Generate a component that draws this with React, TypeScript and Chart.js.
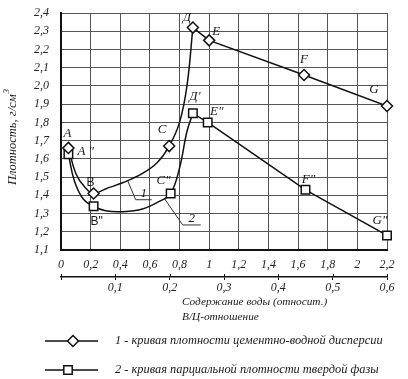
import React, { useEffect, useRef } from 'react';
import { Chart, registerables } from 'chart.js';

Chart.register(...registerables);

const SERIF = "'Liberation Serif', 'DejaVu Serif', serif";
const SANS = "'Liberation Sans', 'DejaVu Sans', sans-serif";

// ---- marked points ----
const curve1Names = ['A', 'B', 'C', 'Д', 'E', 'F', 'G'];
const curve1X = [0.05, 0.22, 0.73, 0.89, 1.0, 1.64, 2.2];
const curve1Y = [1.66, 1.41, 1.67, 2.32, 2.25, 2.06, 1.89];

const curve2Names = ['A "', 'B"', 'C"', "Д'", 'E"', 'F"', 'G"'];
const curve2X = [0.05, 0.22, 0.74, 0.89, 0.99, 1.65, 2.2];
const curve2Y = [1.625, 1.34, 1.41, 1.85, 1.8, 1.43, 1.18];

// ---- traced smooth parts of the curves ----
const curve1PathX = [0.05, 0.1, 0.16, 0.22, 0.3, 0.42, 0.55, 0.65, 0.73, 0.8, 0.85, 0.89];
const curve1PathY = [1.66, 1.52, 1.445, 1.41, 1.435, 1.47, 1.52, 1.58, 1.67, 1.8, 2.0, 2.32];

const curve2PathX = [0.05, 0.09, 0.15, 0.22, 0.3, 0.42, 0.55, 0.66, 0.74, 0.8, 0.85, 0.89];
const curve2PathY = [1.625, 1.48, 1.38, 1.34, 1.315, 1.31, 1.325, 1.365, 1.41, 1.55, 1.75, 1.85];

// index where the straight part starts
const straightFrom = 3;

// ---- axes ----
const xMin = 0, xMax = 2.2, xStep = 0.2;
const yMin = 1.1, yMax = 2.4, yStep = 0.1;
const x2Min = 0, x2Max = 0.6, x2Step = 0.1;

// ---- texts ----
const yTitle = 'Плотность, г/см';
const yTitleSup = '3';
const xTitle1 = 'Содержание воды (относит.)';
const xTitle2 = 'В/Ц-отношение';
const legendText1 = '1 - кривая плотности цементно-водной дисперсии';
const legendText2 = '2 - кривая парциальной плотности твердой фазы';
const curveTag1 = '1';
const curveTag2 = '2';

// label placement styles (dx, dy, align, font)
const curve1LabelStyle: [number, number, CanvasTextAlign, string][] = [
  [-1, -14, 'center', SERIF],
  [-3, -11, 'center', SANS],
  [-7, -17, 'center', SERIF],
  [-6, -10, 'center', SERIF],
  [7, -9, 'center', SERIF],
  [0, -15, 'center', SERIF],
  [-13, -16, 'center', SERIF],
];
const curve2LabelStyle: [number, number, CanvasTextAlign, string][] = [
  [9, -3, 'left', SERIF],
  [3, 15, 'center', SANS],
  [-7, -13, 'center', SERIF],
  [2, -17, 'center', SERIF],
  [9, -11, 'center', SERIF],
  [3, -10, 'center', SERIF],
  [-7, -15, 'center', SERIF],
];

const fmtComma = (v: number, digits?: number) => {
  const r = Math.round(v * 10) / 10;
  return (digits !== undefined ? r.toFixed(digits) : String(r)).replace('.', ',');
};

function diamond(ctx: CanvasRenderingContext2D, x: number, y: number, r: number) {
  ctx.beginPath();
  ctx.moveTo(x, y - r);
  ctx.lineTo(x + r, y);
  ctx.lineTo(x, y + r);
  ctx.lineTo(x - r, y);
  ctx.closePath();
  ctx.fillStyle = '#fff';
  ctx.fill();
  ctx.stroke();
}
function square(ctx: CanvasRenderingContext2D, x: number, y: number, h: number) {
  ctx.beginPath();
  ctx.rect(x - h, y - h, 2 * h, 2 * h);
  ctx.fillStyle = '#fff';
  ctx.fill();
  ctx.stroke();
}

const textPlugin = {
  id: 'extraTexts',
  afterDraw(chart: any) {
    const ctx: CanvasRenderingContext2D = chart.ctx;
    const xs = chart.scales.x;
    const ys = chart.scales.y;
    const x2s = chart.scales.x2;
    ctx.save();
    ctx.fillStyle = '#1a1a1a';
    ctx.textBaseline = 'middle';

    // small upward tick halves on the secondary axis
    ctx.strokeStyle = '#111';
    ctx.lineWidth = 1;
    for (let v = x2Min; v <= x2Max + 1e-9; v += x2Step) {
      const px = Math.round(x2s.getPixelForValue(v)) + 0.5;
      ctx.beginPath();
      ctx.moveTo(px, x2s.top - 3);
      ctx.lineTo(px, x2s.top);
      ctx.stroke();
    }

    // point labels
    const drawLabels = (names: string[], X: number[], Y: number[], st: any[]) => {
      names.forEach((n, i) => {
        const px = xs.getPixelForValue(X[i]);
        const py = ys.getPixelForValue(Y[i]);
        const [dx, dy, al, fam] = st[i];
        ctx.font = fam === SANS ? `12px ${SANS}` : `italic 13px ${SERIF}`;
        ctx.textAlign = al;
        ctx.fillStyle = '#1a1a1a';
        ctx.fillText(n, px + dx, py + dy);
      });
    };
    drawLabels(curve1Names, curve1X, curve1Y, curve1LabelStyle);
    drawLabels(curve2Names, curve2X, curve2Y, curve2LabelStyle);

    // curve tags with leaders
    const tag = (txt: string, ax: number, ay: number, lx: number, ly: number, ulen: number, tx: number, ty: number) => {
      const px = xs.getPixelForValue(ax);
      const py = ys.getPixelForValue(ay);
      ctx.strokeStyle = '#333';
      ctx.lineWidth = 1;
      ctx.beginPath();
      ctx.moveTo(px, py);
      ctx.lineTo(px + lx, py + ly);
      ctx.lineTo(px + lx + ulen, py + ly);
      ctx.stroke();
      ctx.font = `italic 13px ${SERIF}`;
      ctx.textAlign = 'center';
      ctx.fillStyle = '#1a1a1a';
      ctx.fillText(txt, px + tx, py + ty);
    };
    tag(curveTag1, 0.45, 1.48, 8, 19, 16, 16, 13);
    tag(curveTag2, 0.7, 1.38, 18, 26, 18, 27, 20);

    // y title
    ctx.save();
    ctx.translate(13, 137);
    ctx.rotate(-Math.PI / 2);
    ctx.font = `italic 12.5px ${SERIF}`;
    const w1 = ctx.measureText(yTitle).width;
    ctx.font = `italic 9px ${SERIF}`;
    const w2 = ctx.measureText(yTitleSup).width;
    const start = -(w1 + w2 + 1) / 2;
    ctx.textAlign = 'left';
    ctx.font = `italic 12.5px ${SERIF}`;
    ctx.fillText(yTitle, start, 0);
    ctx.font = `italic 9px ${SERIF}`;
    ctx.fillText(yTitleSup, start + w1 + 1, -6);
    ctx.restore();

    // x titles
    ctx.font = `italic 11.3px ${SERIF}`;
    ctx.textAlign = 'left';
    ctx.fillText(xTitle1, 182, 302);
    ctx.fillText(xTitle2, 182, 317);

    // legend
    ctx.strokeStyle = '#111';
    ctx.lineWidth = 1.5;
    ctx.beginPath();
    ctx.moveTo(45, 341);
    ctx.lineTo(98, 341);
    ctx.stroke();
    diamond(ctx, 73, 341, 5.5);
    ctx.beginPath();
    ctx.moveTo(45, 370);
    ctx.lineTo(98, 370);
    ctx.stroke();
    square(ctx, 68, 370, 4.2);
    ctx.fillStyle = '#1a1a1a';
    ctx.font = `italic 12.4px ${SERIF}`;
    ctx.textAlign = 'left';
    ctx.fillText(legendText1, 115, 341);
    ctx.fillText(legendText2, 115, 370);

    ctx.restore();
  },
};

const toXY = (X: number[], Y: number[]) => X.map((x, i) => ({ x, y: Y[i] }));

export default function App() {
  const ref = useRef<HTMLCanvasElement | null>(null);
  useEffect(() => {
    if (!ref.current) return;
    const lineCol = '#111';
    const chart = new Chart(ref.current, {
      type: 'line',
      data: {
        datasets: [
          {
            data: toXY(curve1X, curve1Y),
            showLine: false,
            pointStyle: 'rectRot',
            pointRadius: 5.5,
            pointBackgroundColor: '#fff',
            pointBorderColor: lineCol,
            pointBorderWidth: 1.5,
            clip: false,
          } as any,
          {
            data: toXY(curve2X, curve2Y),
            showLine: false,
            pointStyle: 'rect',
            pointRadius: 6,
            pointBackgroundColor: '#fff',
            pointBorderColor: lineCol,
            pointBorderWidth: 1.5,
            clip: false,
          } as any,
          {
            data: toXY(curve1PathX, curve1PathY),
            borderColor: lineCol,
            borderWidth: 1.5,
            pointRadius: 0,
            tension: 0.4,
          },
          {
            data: toXY(curve1X.slice(straightFrom), curve1Y.slice(straightFrom)),
            borderColor: lineCol,
            borderWidth: 1.5,
            pointRadius: 0,
            tension: 0,
          },
          {
            data: toXY(curve2PathX, curve2PathY),
            borderColor: lineCol,
            borderWidth: 1.5,
            pointRadius: 0,
            tension: 0.4,
          },
          {
            data: toXY(curve2X.slice(straightFrom), curve2Y.slice(straightFrom)),
            borderColor: lineCol,
            borderWidth: 1.5,
            pointRadius: 0,
            tension: 0,
          },
        ],
      },
      options: {
        responsive: false,
        animation: false,
        parsing: false as any,
        layout: { padding: { left: 0, right: 21, top: 13, bottom: 0 } },
        plugins: { legend: { display: false }, tooltip: { enabled: false }, title: { display: false } },
        scales: {
          x: {
            type: 'linear',
            position: 'bottom',
            weight: 0,
            min: xMin,
            max: xMax,
            ticks: {
              stepSize: xStep,
              padding: 8,
              color: '#222',
              font: { family: SERIF, size: 12, style: 'italic' },
              callback: (v: any) => fmtComma(Number(v)),
              maxRotation: 0,
              autoSkip: false,
            },
            grid: { color: '#555', lineWidth: 1, drawTicks: false },
            border: { display: true, color: '#111', width: 2 },
            afterFit: (s: any) => { s.height = 27; s.paddingLeft = 0; s.paddingRight = 0; },
          } as any,
          x2: {
            type: 'linear',
            position: 'bottom',
            weight: 1,
            min: x2Min,
            max: x2Max,
            ticks: {
              stepSize: x2Step,
              padding: 1,
              color: '#222',
              font: { family: SERIF, size: 12, style: 'italic' },
              callback: (v: any) => (Number(v) === 0 ? '' : fmtComma(Number(v), 1)),
              maxRotation: 0,
              autoSkip: false,
            },
            grid: { drawOnChartArea: false, drawTicks: true, tickLength: 3, color: '#111', lineWidth: 1 },
            border: { display: true, color: '#111', width: 1.5 },
            afterFit: (s: any) => { s.height = 102; s.paddingLeft = 0; s.paddingRight = 0; },
          } as any,
          y: {
            type: 'linear',
            position: 'left',
            min: yMin,
            max: yMax,
            ticks: {
              stepSize: yStep,
              padding: 12,
              color: '#222',
              font: { family: SERIF, size: 12, style: 'italic' },
              callback: (v: any) => fmtComma(Number(v), 1),
              autoSkip: false,
            },
            grid: { color: '#555', lineWidth: 1, drawTicks: false },
            border: { display: true, color: '#111', width: 2 },
            afterFit: (s: any) => { s.width = 61; s.paddingTop = 0; s.paddingBottom = 0; },
          } as any,
        },
      },
      plugins: [textPlugin],
    });
    return () => chart.destroy();
  }, []);
  return (
    <div style={{ position: 'fixed', left: 0, top: 0, width: 408, height: 379, background: '#fff' }}>
      <canvas ref={ref} width={408} height={379} style={{ display: 'block' }} />
    </div>
  );
}
